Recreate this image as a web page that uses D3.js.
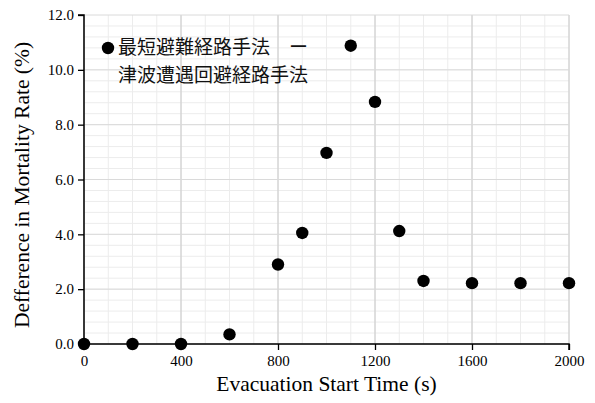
<!DOCTYPE html>
<html>
<head>
<meta charset="utf-8">
<script src="https://cdn.jsdelivr.net/npm/d3@7"></script>
<style>
  body { margin: 0; background: #fff; }
  svg text { font-family: "Liberation Serif", "DejaVu Serif", serif; fill: #000; }
  .legend text { font-family: "Noto Sans CJK JP", "Noto Sans", sans-serif; fill: #111; }
</style>
</head>
<body>
<div id="chart"></div>
<script>
// values
const startTimes = [0, 200, 400, 600, 800, 900, 1000, 1100, 1200, 1300, 1400, 1600, 1800, 2000];
const rateDiff = [0, 0, 0, 0.35, 2.9, 4.05, 6.97, 10.88, 8.83, 4.12, 2.3, 2.22, 2.22, 2.22];
const xTicks = [0, 400, 800, 1200, 1600, 2000];
const yTicks = [0, 2, 4, 6, 8, 10, 12];
const legendLines = ['最短避難経路手法　ー', '津波遭遇回避経路手法'];

const width = 595;
const height = 403;
const margin = {top: 15, right: 26, bottom: 59, left: 84};
const graphWidth = width - margin.left - margin.right;
const graphHeight = height - margin.top - margin.bottom;

const xScale = d3.scaleLinear().domain([0, 2000]).range([0, graphWidth]);
const yScale = d3.scaleLinear().domain([0, 12]).range([graphHeight, 0]);

const svg = d3.select('#chart').append('svg')
    .attr('width', width)
    .attr('height', height);

const graph = svg.append('g')
    .attr('transform', `translate(${margin.left}, ${margin.top})`);

// minor grid
graph.append('g')
    .selectAll('line')
    .data(d3.range(0, 2001, 100))
    .enter().append('line')
    .attr('x1', d => xScale(d)).attr('x2', d => xScale(d))
    .attr('y1', 0).attr('y2', graphHeight)
    .attr('stroke', '#ececec').attr('stroke-width', 1);

graph.append('g')
    .selectAll('line')
    .data(d3.range(0, 30).map(i => i * 0.4).filter(v => v <= 12.001))
    .enter().append('line')
    .attr('x1', 0).attr('x2', graphWidth)
    .attr('y1', d => yScale(d)).attr('y2', d => yScale(d))
    .attr('stroke', '#ececec').attr('stroke-width', 1);

// major grid
graph.append('g')
    .selectAll('line')
    .data(xTicks)
    .enter().append('line')
    .attr('x1', d => xScale(d)).attr('x2', d => xScale(d))
    .attr('y1', 0).attr('y2', graphHeight)
    .attr('stroke', '#c8c8c8').attr('stroke-width', 1);

graph.append('g')
    .selectAll('line')
    .data(yTicks)
    .enter().append('line')
    .attr('x1', 0).attr('x2', graphWidth)
    .attr('y1', d => yScale(d)).attr('y2', d => yScale(d))
    .attr('stroke', '#dadada').attr('stroke-width', 1);

// axes
const xAxis = d3.axisBottom(xScale).tickValues(xTicks).tickSize(6).tickPadding(5).tickFormat(d => d);
const yAxis = d3.axisLeft(yScale).tickValues(yTicks).tickSize(6).tickPadding(4).tickFormat(d3.format('.1f'));

const gx = graph.append('g')
    .attr('transform', `translate(0, ${graphHeight})`)
    .call(xAxis);
const gy = graph.append('g').call(yAxis);

[gx, gy].forEach(g => {
  g.select('.domain').attr('stroke', '#000').attr('stroke-width', 1.5);
  g.selectAll('.tick line').attr('stroke', '#000').attr('stroke-width', 1.3);
  g.selectAll('.tick text').attr('font-size', 15).attr('font-family', '"Liberation Serif", serif');
});
gx.select('.domain').attr('d', `M0,6V0H${graphWidth}V6`);
gy.select('.domain').attr('d', `M-6,0H0V${graphHeight}H-6`);

// points
graph.append('g')
    .selectAll('circle')
    .data(startTimes)
    .enter().append('circle')
    .attr('cx', d => xScale(d))
    .attr('cy', (d, i) => yScale(rateDiff[i]))
    .attr('r', 6.2)
    .attr('fill', '#000');

// axis titles
svg.append('text')
    .attr('x', margin.left + graphWidth / 2)
    .attr('y', 391)
    .attr('text-anchor', 'middle')
    .attr('font-size', 21.5)
    .text('Evacuation Start Time (s)');

svg.append('text')
    .attr('transform', `translate(29, 185) rotate(-90)`)
    .attr('text-anchor', 'middle')
    .attr('font-size', 21.5)
    .text('Defference in Mortality Rate (%)');

// legend
const legend = svg.append('g').attr('class', 'legend');
legend.append('circle')
    .attr('cx', 108).attr('cy', 48).attr('r', 6.2).attr('fill', '#000');
legend.selectAll('text')
    .data(legendLines)
    .enter().append('text')
    .attr('x', 118)
    .attr('y', (d, i) => 54 + i * 27.6)
    .attr('font-size', 19)
    .text(d => d);
</script>
</body>
</html>
